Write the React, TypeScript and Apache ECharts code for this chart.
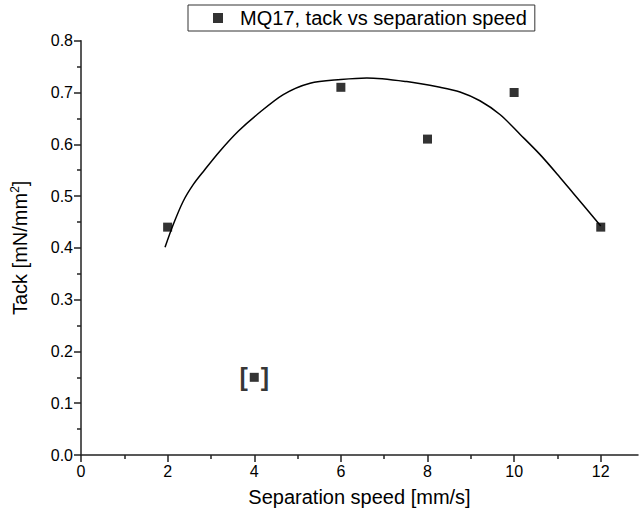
import React, { useEffect, useRef } from "react";
import * as echarts from "echarts";

const speeds = [2, 6, 8, 10, 12];
const tack = [0.44, 0.71, 0.61, 0.7, 0.44];
const annotX = [4];
const annotY = [0.15];
const fitX = [1.94, 2.13, 2.36, 2.59, 2.83, 3.21, 3.63, 4.06, 4.67, 5.29, 6.0, 6.6, 7.52, 8.29, 8.75, 9.21, 9.68, 10.14, 10.6, 11.05, 11.37, 12.0];
const fitY = [0.401, 0.445, 0.49, 0.522, 0.548, 0.587, 0.625, 0.657, 0.696, 0.718, 0.725, 0.728, 0.721, 0.71, 0.701, 0.684, 0.657, 0.619, 0.58, 0.537, 0.505, 0.442];
const xMajorTicks = [0, 2, 4, 6, 8, 10, 12];
const xMinorTicks = [1, 3, 5, 7, 9, 11];
const seriesName = "MQ17, tack vs separation speed";

const FONT = "Liberation Sans, Arial, sans-serif";

export default function App() {
  const ref = useRef<HTMLDivElement>(null);
  useEffect(() => {
    if (!ref.current) return;
    const chart = echarts.init(ref.current, undefined, { renderer: "svg" });
    const axisColor = "#222";
    chart.setOption({
      animation: false,
      backgroundColor: "#fff",
      grid: { left: 81, right: 1, top: 40.7, bottom: 68 },
      legend: {
        data: [{ name: seriesName, icon: "rect" }],
        left: 188,
        top: 5,
        padding: [3, 8, 3, 25],
        borderColor: "#333",
        borderWidth: 1,
        itemWidth: 10,
        itemHeight: 10,
        textStyle: { fontSize: 20, fontFamily: FONT, color: "#000", padding: [0, 0, 0, 12] },
      },
      xAxis: [
        {
          type: "value",
          min: 0,
          max: 12.86,
          name: "Separation speed [mm/s]",
          nameLocation: "middle",
          nameGap: 32,
          nameTextStyle: { fontSize: 20, fontFamily: FONT, color: "#000" },
          axisLine: { show: true, lineStyle: { color: axisColor, width: 1.5 } },
          axisTick: { show: true, length: 7, customValues: xMajorTicks, lineStyle: { color: axisColor, width: 1.5 } },
          axisLabel: { customValues: xMajorTicks, fontSize: 16, fontFamily: FONT, color: "#000", margin: 8 },
          splitLine: { show: false },
        },
        {
          type: "value",
          min: 0,
          max: 12.86,
          position: "bottom",
          axisLine: { show: false },
          axisTick: { show: true, length: 4, customValues: xMinorTicks, lineStyle: { color: axisColor, width: 1.5 } },
          axisLabel: { show: false },
          splitLine: { show: false },
        },
      ],
      yAxis: {
        type: "value",
        min: 0,
        max: 0.8,
        interval: 0.1,
        name: "Tack [mN/mm{sup|2}]",
        nameLocation: "middle",
        nameRotate: 90,
        nameGap: 50,
        nameTextStyle: {
          fontSize: 20,
          fontFamily: FONT,
          color: "#000",
          rich: { sup: { fontSize: 12, fontFamily: FONT, color: "#000", verticalAlign: "top", padding: [0, 0, 10, 0] } },
        },
        axisLine: { show: true, lineStyle: { color: axisColor, width: 1.5 } },
        axisTick: { show: true, length: 7, lineStyle: { color: axisColor, width: 1.5 } },
        minorTick: { show: true, splitNumber: 2, length: 4, lineStyle: { color: axisColor, width: 1.5 } },
        axisLabel: {
          fontSize: 16,
          fontFamily: FONT,
          color: "#000",
          margin: 8,
          formatter: (v: number) => v.toFixed(1),
        },
        splitLine: { show: false },
      },
      series: [
        {
          name: "fit",
          type: "line",
          data: fitX.map((x, i) => [x, fitY[i]]),
          smooth: 0.3,
          showSymbol: false,
          lineStyle: { color: "#000", width: 1.5 },
          silent: true,
          z: 2,
        },
        {
          name: seriesName,
          type: "scatter",
          data: speeds.map((x, i) => [x, tack[i]]),
          symbol: "rect",
          symbolSize: 9,
          itemStyle: { color: "#000" },
          z: 3,
        },
        {
          name: "annotation",
          type: "scatter",
          data: annotX.map((x, i) => [x, annotY[i]]),
          symbol: "rect",
          symbolSize: 9,
          itemStyle: { color: "#000" },
          label: {
            show: true,
            position: "inside",
            formatter: "{b|[}{g|}{b|]}",
            color: "#000000",
            textBorderColor: "transparent",
            textBorderWidth: 0,
            rich: {
              b: { fontSize: 25, fontWeight: "bold", fontFamily: FONT, color: "#000000" },
              g: { width: 13 },
            },
          },
          z: 3,
        },
      ],
    });
    return () => chart.dispose();
  }, []);
  return (
    <div
      ref={ref}
      style={{ position: "fixed", left: 0, top: 0, width: 639, height: 523 }}
    />
  );
}
